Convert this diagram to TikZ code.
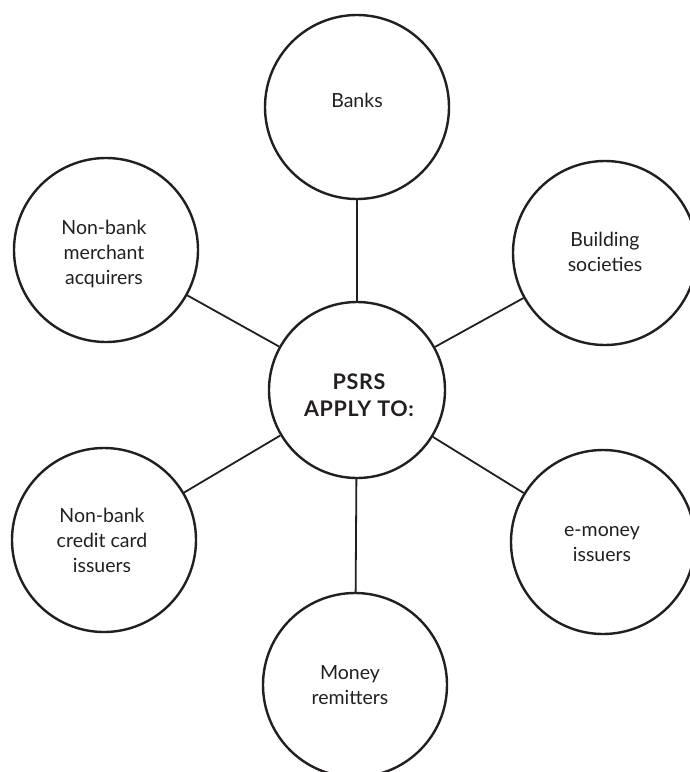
\documentclass[tikz,border=0pt]{standalone}
\usepackage{fontspec}
\setmainfont{Lato}
\newfontfamily\hubfont[LetterSpace=3]{Lato Bold}
\definecolor{ink}{HTML}{231F20}
\begin{document}
\begin{tikzpicture}[x=1pt,y=-1pt,
  bubble/.style={circle,draw=ink,line width=2.4pt,inner sep=0pt,minimum size=184pt},
  hub/.style={circle,draw=ink,line width=2.4pt,inner sep=0pt,minimum size=176pt},
  lbl/.style={align=center,text=ink,font=\fontsize{19.5}{25}\selectfont},
  hublbl/.style={align=center,text=ink,font=\hubfont\fontsize{21.5}{27.5}\selectfont},
  link/.style={draw=ink,line width=1.8pt}]
\useasboundingbox (0,0) rectangle (690,772);
\clip (0,0) rectangle (690,772);
% circles
\node[hub] (hub) at (357,390) {};
\node[bubble] (banks) at (357,107) {};
\node[bubble] (build) at (605,253) {};
\node[bubble] (merch) at (106,250) {};
\node[bubble] (emoney) at (603,542) {};
\node[bubble] (credit) at (104,540) {};
\node[bubble] (money) at (355,685) {};
% connectors
\draw[link] (hub) -- (banks);
\draw[link] (hub) -- (build);
\draw[link] (hub) -- (merch);
\draw[link] (hub) -- (emoney);
\draw[link] (hub) -- (credit);
\draw[link] (hub) -- (money);
% labels
\node[hublbl] (hubT) at (359,395) {PSRS\\APPLY TO:};
\node[lbl] (banksT) at (357,100) {Banks};
\node[lbl] (buildT) at (605,252) {Building\\societies};
\node[lbl] (merchT) at (104,254) {Non-bank\\merchant\\acquirers};
\node[lbl] (emoneyT) at (602,544) {e-money\\issuers};
\node[lbl] (creditT) at (102,540) {Non-bank\\credit card\\issuers};
\node[lbl] (moneyT) at (350,685) {Money\\remitters};
\end{tikzpicture}
\end{document}
